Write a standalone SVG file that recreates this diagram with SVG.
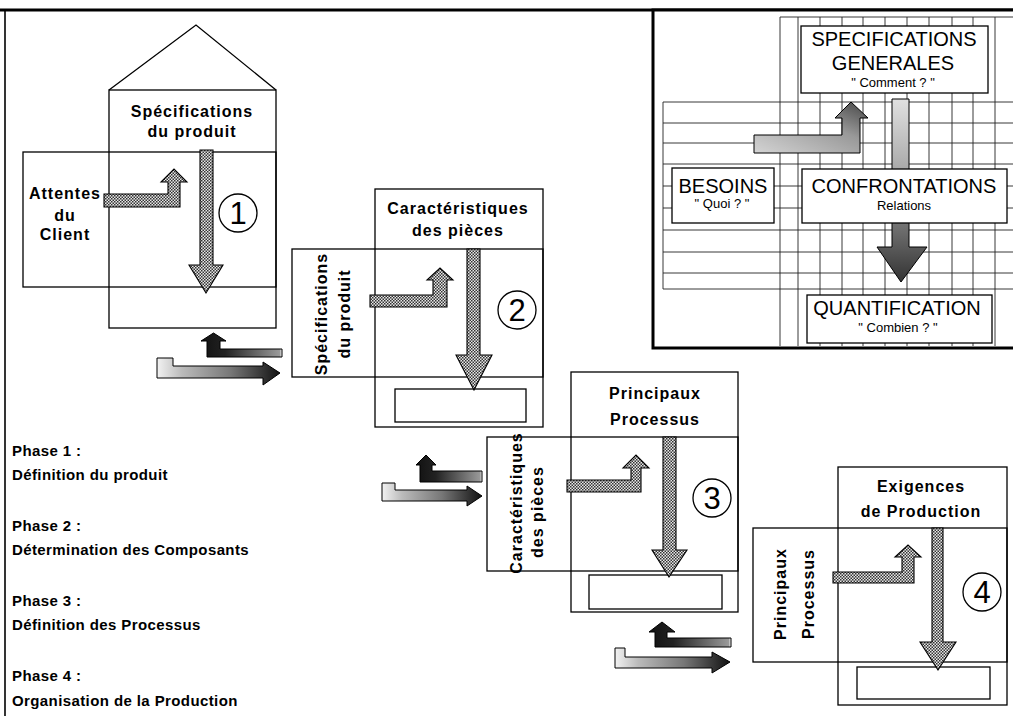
<svg xmlns="http://www.w3.org/2000/svg" width="1013" height="716" viewBox="0 0 1013 716">
<defs>
<style>
.ln{fill:none;stroke:#000;stroke-width:1.3}
.bx{fill:#fff;stroke:#000;stroke-width:1.3}
.gr{fill:none;stroke:#222;stroke-width:0.9}
.arr{fill:url(#dots);stroke:#000;stroke-width:1.1}
.ttl{font-family:"Liberation Sans",Arial,sans-serif;font-weight:bold;font-size:16px;letter-spacing:1px;text-anchor:middle;fill:#000}
.ph{font-family:"Liberation Sans",Arial,sans-serif;font-weight:bold;font-size:15px;letter-spacing:0.4px;fill:#000}
.num{font-family:"Liberation Sans",Arial,sans-serif;font-size:31px;text-anchor:middle;fill:#000}
.cap{font-family:"Liberation Sans",Arial,sans-serif;font-size:20px;text-anchor:middle;fill:#000}
.sub{font-family:"Liberation Sans",Arial,sans-serif;font-size:13px;text-anchor:middle;fill:#000}
</style>
<pattern id="dots" width="3" height="3" patternUnits="userSpaceOnUse">
<rect width="3" height="3" fill="#e8e8e8"/>
<rect width="1.5" height="1.5" fill="#333"/>
<rect x="1.5" y="1.5" width="1.5" height="1.5" fill="#333"/>
</pattern>
<linearGradient id="gUp" x1="0" y1="0" x2="1" y2="0">
<stop offset="0" stop-color="#111"/>
<stop offset="0.3" stop-color="#222"/>
<stop offset="0.97" stop-color="#999"/>
<stop offset="1" stop-color="#fff"/>
</linearGradient>
<linearGradient id="gRight" x1="0" y1="0" x2="1" y2="0">
<stop offset="0" stop-color="#f2f2f2"/>
<stop offset="0.2" stop-color="#bbb"/>
<stop offset="0.6" stop-color="#777"/>
<stop offset="1" stop-color="#111"/>
</linearGradient>
<linearGradient id="gIL" x1="0" y1="1" x2="1" y2="0">
<stop offset="0" stop-color="#d4d4d4"/>
<stop offset="0.6" stop-color="#999"/>
<stop offset="1" stop-color="#444"/>
</linearGradient>
<linearGradient id="gIV" x1="0" y1="0" x2="0" y2="1">
<stop offset="0" stop-color="#e0e0e0"/>
<stop offset="0.5" stop-color="#999"/>
<stop offset="1" stop-color="#333"/>
</linearGradient>
</defs>
<rect width="1013" height="716" fill="#fff"/>

<!-- frame -->
<g id="frame">
<line x1="0" y1="10" x2="1013" y2="10" stroke="#000" stroke-width="3"/>
<line x1="5" y1="10" x2="5" y2="716" stroke="#000" stroke-width="1.6"/>
</g>

<!-- Phase 1 -->
<g id="phase1">
<polyline class="ln" points="109,90 196,25 276,90"/>
<rect class="ln" x="109" y="90" width="167" height="238"/>
<rect class="ln" x="23" y="152" width="253" height="135"/>
<text class="ttl" x="192" y="117">Spécifications</text>
<text class="ttl" x="192" y="137" letter-spacing="1.8">du produit</text>
<text class="ttl" x="65" y="199" font-size="14">Attentes</text>
<text class="ttl" x="65" y="221" font-size="14">du</text>
<text class="ttl" x="65" y="240" font-size="14">Client</text>
<path class="arr" d="M104,194 L168,194 L168,182 L161,182 L174,169 L187,182 L180,182 L180,207 L104,207 Z"/>
<path class="arr" d="M200,150 L213,150 L213,265 L223,265 L206,293 L189,265 L200,265 Z"/>
<circle class="ln" cx="238" cy="213" r="19"/>
<text class="num" x="238" y="224">1</text>
</g>

<!-- Phase 2 -->
<g id="phase2">
<rect class="ln" x="375" y="189" width="168" height="238"/>
<rect class="ln" x="292" y="249" width="251" height="128"/>
<rect class="ln" x="395" y="389" width="131" height="33"/>
<text class="ttl" x="458" y="214">Caractéristiques</text>
<text class="ttl" x="458" y="236">des pièces</text>
<text class="ttl" font-size="14" letter-spacing="1.2" transform="translate(327,314) rotate(-90)">Spécifications</text>
<text class="ttl" font-size="14" letter-spacing="1.2" transform="translate(350,314) rotate(-90)">du produit</text>
<path class="arr" d="M370,295 L433,295 L433,280 L427,280 L440,268 L453,280 L447,280 L447,307 L370,307 Z"/>
<path class="arr" d="M467,249 L480,249 L480,355 L492,355 L474,390 L456,355 L467,355 Z"/>
<circle class="ln" cx="517" cy="310" r="19"/>
<text class="num" x="517" y="321">2</text>
</g>

<!-- Phase 3 -->
<g id="phase3">
<rect class="ln" x="571" y="372" width="167" height="240"/>
<rect class="ln" x="487" y="437" width="251" height="134"/>
<rect class="ln" x="589" y="575" width="133" height="34"/>
<text class="ttl" x="655" y="399" font-size="19">Principaux</text>
<text class="ttl" x="655" y="425" font-size="19">Processus</text>
<text class="ttl" font-size="14" letter-spacing="0.4" transform="translate(522,503) rotate(-90)">Caractéristiques</text>
<text class="ttl" font-size="14" letter-spacing="0.4" transform="translate(543,512) rotate(-90)">des pièces</text>
<path class="arr" d="M567,480 L631,480 L631,468 L623,468 L636,455 L649,468 L641,468 L641,492 L567,492 Z"/>
<path class="arr" d="M663,437 L676,437 L676,550 L687,550 L669,577 L652,550 L663,550 Z"/>
<circle class="ln" cx="712" cy="498" r="19"/>
<text class="num" x="712" y="509">3</text>
</g>

<!-- Phase 4 -->
<g id="phase4">
<rect class="ln" x="838" y="467" width="169" height="238"/>
<rect class="ln" x="753" y="528" width="254" height="134"/>
<rect class="ln" x="857" y="667" width="133" height="32"/>
<text class="ttl" x="921" y="492" font-size="17">Exigences</text>
<text class="ttl" x="921" y="517" font-size="17">de Production</text>
<text class="ttl" font-size="17" letter-spacing="1.5" transform="translate(786,594) rotate(-90)">Principaux</text>
<text class="ttl" font-size="17" letter-spacing="1.6" transform="translate(814,594) rotate(-90)">Processus</text>
<path class="arr" d="M833,572 L902,572 L902,557 L895,557 L908,545 L921,557 L914,557 L914,583 L833,583 Z"/>
<path class="arr" d="M932,528 L943,528 L943,642 L956,642 L938,670 L920,642 L932,642 Z"/>
<circle class="ln" cx="982" cy="592" r="19"/>
<text class="num" x="982" y="603">4</text>
</g>

<!-- transfer arrows between phases -->
<g id="connectors">
<path d="M207,357 L207,341 L201,341 L213.5,333 L226,341 L220,341 L220,349 L282,349 L282,357 Z" fill="url(#gUp)" stroke="#000" stroke-width="1"/>
<path d="M157,358 L173,358 L173,366 L263,366 L263,362 L280,373 L263,385 L263,378 L157,378 Z" fill="url(#gRight)" stroke="#000" stroke-width="1"/>
<path d="M420,482 L420,465 L416,465 L426,455 L436,465 L432,465 L432,471 L482,471 L482,482 Z" fill="url(#gUp)" stroke="#000" stroke-width="1"/>
<path d="M382,483 L395,483 L395,490 L467,490 L467,486 L482,496 L467,506 L467,501 L382,501 Z" fill="url(#gRight)" stroke="#000" stroke-width="1"/>
<path d="M655,647 L655,632 L649,632 L662,622 L675,632 L667,632 L667,638 L731,638 L731,647 Z" fill="url(#gUp)" stroke="#000" stroke-width="1"/>
<path d="M615,648 L625,648 L625,657 L712,657 L712,652 L730,662 L712,673 L712,668 L615,668 Z" fill="url(#gRight)" stroke="#000" stroke-width="1"/>
</g>

<!-- phase legend -->
<g id="legend">
<text class="ph" x="12" y="456">Phase 1 :</text>
<text class="ph" x="12" y="480">Définition du produit</text>
<text class="ph" x="12" y="531">Phase 2 :</text>
<text class="ph" x="12" y="555">Détermination des Composants</text>
<text class="ph" x="12" y="606">Phase 3 :</text>
<text class="ph" x="12" y="630">Définition des Processus</text>
<text class="ph" x="12" y="681">Phase 4 :</text>
<text class="ph" x="12" y="706">Organisation de la Production</text>
</g>

<!-- inset -->
<g id="inset">
<rect x="653" y="10" width="362" height="338" fill="#fff" stroke="#000" stroke-width="3"/>
<g id="grid">
<path class="gr" d="M780,17 H1013 M663,102 H1013 M663,123 H1013 M663,143 H1013 M663,164 H1013 M663,186 H1013 M663,208 H1013 M663,230 H1013 M663,252 H1013 M663,273 H1013 M663,289 H1013 M663,102 V289"/>
<path class="gr" d="M780,17 V346 M798,17 V346 M820,17 V346 M842,17 V346 M863,17 V346 M885,17 V346 M907,17 V346 M929,17 V346 M952,17 V346 M973,17 V346 M995,17 V346"/>
</g>
<path d="M754,135 L842,135 L842,118 L835,118 L851,102 L868,118 L860,118 L860,153 L754,153 Z" fill="url(#gIL)" stroke="#000" stroke-width="1"/>
<path d="M892,99 L909,99 L909,247 L927,247 L901,282 L877,247 L892,247 Z" fill="url(#gIV)" stroke="#000" stroke-width="1"/>
<g id="specgen">
<rect class="bx" x="801" y="26" width="187" height="67"/>
<text class="cap" x="894" y="46">SPECIFICATIONS</text>
<text class="cap" x="893" y="70" font-size="19">GENERALES</text>
<text class="sub" x="893" y="87">" Comment ? "</text>
</g>
<g id="besoins">
<rect class="bx" x="672" y="168" width="102" height="55"/>
<text class="cap" x="723" y="193" font-size="19">BESOINS</text>
<text class="sub" x="722" y="208" font-size="14">" Quoi ? "</text>
</g>
<g id="confrontations">
<rect class="bx" x="802" y="169" width="205" height="54"/>
<text class="cap" x="904" y="193">CONFRONTATIONS</text>
<text class="sub" x="904" y="210" font-size="14">Relations</text>
</g>
<g id="quantification">
<rect class="bx" x="807" y="295" width="185" height="48"/>
<text class="cap" x="897" y="315">QUANTIFICATION</text>
<text class="sub" x="898" y="332">" Combien ? "</text>
</g>
</g>
</svg>
